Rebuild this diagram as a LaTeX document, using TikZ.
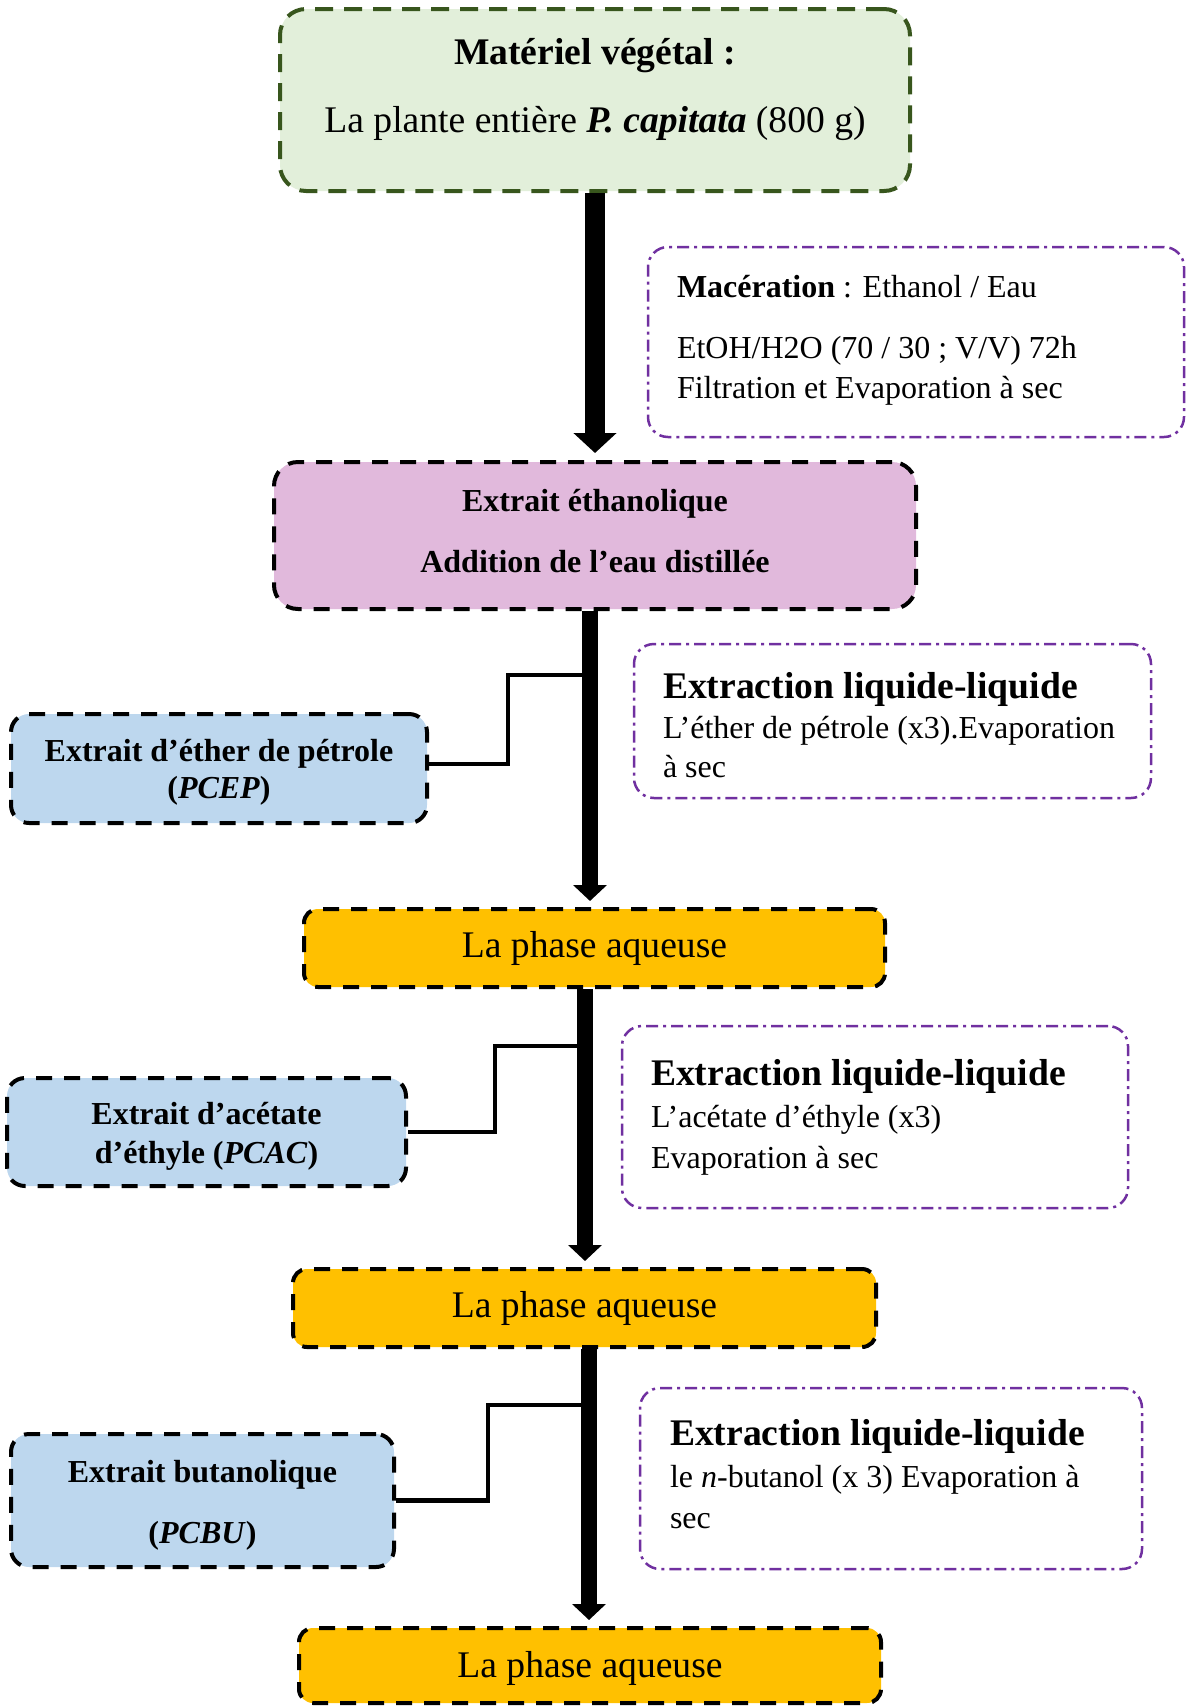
\documentclass[tikz,border=0pt]{standalone}
\usepackage{fontspec}
\setmainfont{Liberation Serif}
\usetikzlibrary{arrows.meta}
\definecolor{greenfill}{HTML}{E2EFDA}
\definecolor{greenline}{HTML}{38561D}
\definecolor{pinkfill}{HTML}{E1B9DC}
\definecolor{bluefill}{HTML}{BDD7EE}
\definecolor{orangefill}{HTML}{FFC000}
\definecolor{violetline}{HTML}{7030A0}
\newcommand\sizeL{\fontsize{37.6}{44}\selectfont}
\newcommand\sizeM{\fontsize{32}{38}\selectfont}

\begin{document}
\begin{tikzpicture}[x=1pt, y=-1pt,
    box/.style={draw, line width=4pt, dash pattern=on 16pt off 12pt, rounded corners=18pt, inner sep=0pt, align=center},
    startbox/.style={box, draw=greenline, fill=greenfill, dash pattern=on 18pt off 11pt, rounded corners=26pt},
    extbox/.style={box, fill=bluefill},
    phasebox/.style={box, fill=orangefill, rounded corners=14pt, font=\sizeL},
    note/.style={draw=violetline, line width=2.5pt, dash pattern=on 12pt off 5pt on 3pt off 5pt, rounded corners=20pt, inner sep=0pt},
    notetext/.style={align=flush left, inner sep=0pt},
    boxtext/.style={align=center, inner sep=0pt, font=\bfseries},
    mainline/.style={line width=16pt, -{Triangle[width=33pt,length=16pt]}, shorten >=6pt},
    branch/.style={line width=4.5pt}]
    \useasboundingbox (0,0) rectangle (1186,1706);
    % Boxes
    \node[startbox, minimum width=630, minimum height=182, font=\sizeL, text depth=29pt] (plant) at (595,100)
        {\textbf{Matériel végétal :}\\[24pt] La plante entière \textbf{\textit{P. capitata}} (800 g)};
    \node[box, fill=pinkfill, rounded corners=24pt, minimum width=642, minimum height=147, font=\sizeM\bfseries, text depth=9pt] (etoh) at (595,535.5)
        {Extrait éthanolique\\[23pt] Addition de l’eau distillée};
    \node[phasebox, minimum width=581, minimum height=78] (aq1) at (594.5,948) {La phase aqueuse};
    \node[phasebox, minimum width=583, minimum height=78] (aq2) at (584.5,1308) {La phase aqueuse};
    \node[phasebox, minimum width=582, minimum height=75] (aq3) at (590,1665.5) {};
    \node[font=\sizeL, inner sep=0pt] (aq3-t) at ([yshift=-3.3pt]aq3.center) {La phase aqueuse};
    % Extracts
    \node[extbox, minimum width=416, minimum height=109] (pcep) at (219,768.5) {};
    \node[boxtext, font=\fontsize{32}{37}\selectfont\bfseries] (pcep-t) at ([yshift=-3.3pt]pcep.center)
        {Extrait d’éther de pétrole\\ (\textit{PCEP})};
    \node[extbox, minimum width=399, minimum height=108] (pcac) at (206.5,1132) {};
    \node[boxtext, font=\fontsize{32}{39}\selectfont\bfseries] (pcac-t) at ([yshift=-4.4pt]pcac.center)
        {Extrait d’acétate\\ d’éthyle (\textit{PCAC})};
    \node[extbox, minimum width=383, minimum height=133] (pcbu) at (202.5,1500.5) {};
    \node[boxtext, font=\sizeM\bfseries] (pcbu-t) at ([yshift=-4.4pt]pcbu.center)
        {Extrait butanolique\\[23pt] (\textit{PCBU})};
    % Notes
    \node[note, minimum width=536, minimum height=190] (mac) at (916,342) {};
    \node[notetext, text width=478, font=\sizeM] (mac-t) at ([yshift=2.2pt]mac.center)
        {\textbf{Macération} : Ethanol / Eau\\[23pt] EtOH/H2O (70 / 30 ; V/V) 72h\\[2pt] Filtration et Evaporation à sec};
    \node[note, minimum width=517, minimum height=154] (ext1) at (892.5,721) {};
    \node[notetext, text width=459, font=\fontsize{32}{39}\selectfont] (ext1-t) at ([yshift=-3.8pt]ext1.center)
        {{\fontsize{37.6}{39}\selectfont\bfseries Extraction liquide-liquide}\\[1.3pt] L’éther de pétrole (x3).Evaporation\\ à sec};
    \node[note, minimum width=506, minimum height=182] (ext2) at (875,1117) {};
    \node[notetext, text width=448, font=\fontsize{32}{41}\selectfont] (ext2-t) at (ext2.center)
        {{\fontsize{37.6}{41}\selectfont\bfseries Extraction liquide-liquide}\\[1pt] L’acétate d’éthyle (x3)\\ Evaporation à sec};
    \node[note, minimum width=502, minimum height=181] (ext3) at (891,1478.5) {};
    \node[notetext, text width=442, font=\fontsize{32}{41}\selectfont] (ext3-t) at ([yshift=4.4pt]ext3.center)
        {{\fontsize{37.6}{41}\selectfont\bfseries Extraction liquide-liquide}\\[1pt] le \textit{n}-butanol (x 3) Evaporation à\\ sec};
    % Branches
    \coordinate (j1) at (586,675);
    \coordinate (j2) at (583,1046);
    \coordinate (j3) at (587,1405);
    \draw[branch] (j1) -| ([xshift=79,yshift=4.5]pcep.east) -- ([yshift=4.5]pcep.east);
    \draw[branch] (j2) -| ([xshift=87]pcac.east) -- (pcac.east);
    \draw[branch] (j3) -| ([xshift=92]pcbu.east) -- (pcbu.east);
    % Main arrows
    \draw[mainline, line width=20pt, -{Triangle[width=42pt,length=20pt]}, shorten >=7pt] (plant.south) -- (etoh.north);
    \draw[mainline] ([xshift=-5]etoh.south) -- ([xshift=-4.5]aq1.north);
    \draw[mainline] ([xshift=-9.5]aq1.south) -- ([xshift=0.5]aq2.north);
    \draw[mainline] ([xshift=4.5]aq2.south) -- ([xshift=-1]aq3.north);
\end{tikzpicture}
\end{document}
